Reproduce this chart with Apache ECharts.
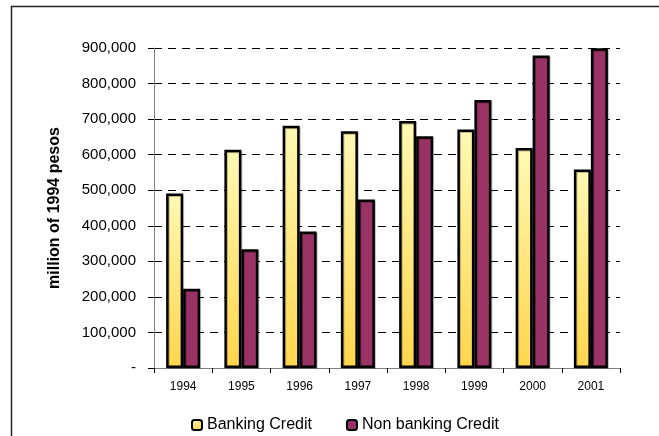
<!DOCTYPE html>
<html><head><meta charset="utf-8">
<script src="https://cdn.jsdelivr.net/npm/echarts@6/dist/echarts.min.js"></script>
<style>html,body{margin:0;padding:0;background:#fff}#c{width:659px;height:436px}</style>
</head><body><div id="c"></div>
<script>
var categories = ['1994','1995','1996','1997','1998','1999','2000','2001'];
var bankingCredit = [491000, 614000, 681000, 666000, 695000, 671000, 619000, 558000];
var nonBankingCredit = [223000, 334000, 384000, 474000, 652000, 754000, 879000, 899000];
var yTicks = [0, 100000, 200000, 300000, 400000, 500000, 600000, 700000, 800000, 900000];

var chart = echarts.init(document.getElementById('c'), null, {renderer: 'canvas'});
var font = 'Arial, "Liberation Sans", sans-serif';
chart.setOption({
  animation: false,
  backgroundColor: '#fff',
  graphic: [{
    type: 'polyline', silent: true,
    shape: {points: [[11.5, 440], [11.5, 6.5], [665, 6.5]]},
    style: {stroke: '#222', lineWidth: 1.5, fill: null}
  }],
  grid: {left: 154, right: 39, top: 48, bottom: 68},
  legend: {
    top: 412, left: 186,
    itemWidth: 10, itemHeight: 10, itemGap: 34,
    textStyle: {fontFamily: font, fontSize: 16, color: '#000'},
    data: ['Banking Credit', 'Non banking Credit']
  },
  xAxis: {
    type: 'category', data: categories,
    axisLine: {lineStyle: {color: '#808080', width: 1}},
    axisTick: {show: true, length: 5, alignWithLabel: false, lineStyle: {color: '#000'}},
    axisLabel: {fontFamily: font, fontSize: 12, color: '#000', margin: 13}
  },
  yAxis: {
    type: 'value', min: yTicks[0], max: yTicks[yTicks.length - 1], interval: yTicks[1] - yTicks[0],
    name: 'million of 1994 pesos', nameLocation: 'middle', nameGap: 91,
    nameTextStyle: {fontFamily: font, fontSize: 16, fontWeight: 'bold', color: '#000'},
    axisLine: {show: true, lineStyle: {color: '#808080', width: 1}},
    axisTick: {show: true, length: 6, lineStyle: {color: '#000'}},
    axisLabel: {fontFamily: font, fontSize: 15, color: '#000', margin: 18,
      formatter: function (v) { return v === 0 ? '-' : v.toLocaleString('en-US'); }},
    splitLine: {show: true, lineStyle: {color: '#000', type: [8, 6], width: 1}}
  },
  series: [{
    name: 'Banking Credit', type: 'bar', data: bankingCredit,
    barWidth: 17, barGap: '0%',
    itemStyle: {
      color: new echarts.graphic.LinearGradient(0, 0, 0.6, 1, [
        {offset: 0, color: '#FFF9B4'}, {offset: 1, color: '#FFD54C'}]),
      borderColor: '#000', borderWidth: 2.5,
      shadowColor: 'rgba(0,0,0,0.25)', shadowOffsetX: 1, shadowOffsetY: 1
    }
  }, {
    name: 'Non banking Credit', type: 'bar', data: nonBankingCredit,
    barWidth: 17, barGap: '0%',
    itemStyle: {color: '#993366', borderColor: '#000', borderWidth: 2.5,
      shadowColor: 'rgba(0,0,0,0.25)', shadowOffsetX: 1, shadowOffsetY: 1}
  }]
});
</script></body></html>
